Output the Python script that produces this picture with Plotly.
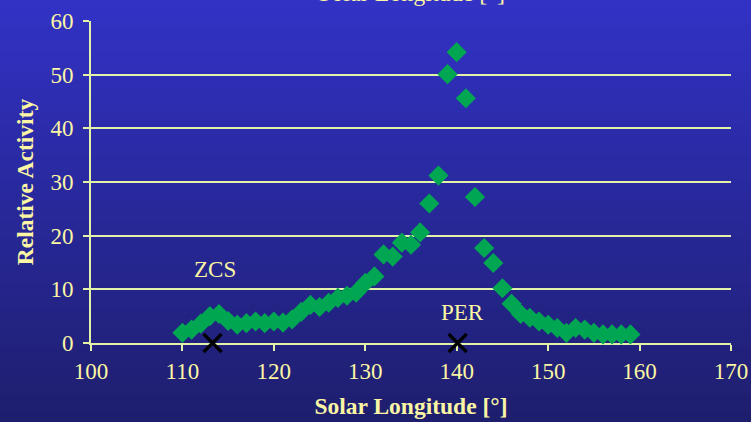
import plotly.graph_objects as go

# Solar longitude (deg) and relative activity of the shower
solar_longitude = list(range(110, 160))
relative_activity = [
    1.9, 2.5, 3.6, 5.0, 5.4, 4.1, 3.4, 3.7, 4.0, 3.7,
    4.0, 3.8, 4.4, 5.8, 7.1, 6.7, 7.5, 8.4, 8.8, 9.4,
    11.2, 12.4, 16.5, 16.1, 18.7, 18.3, 20.6, 26.0, 31.2, 50.1,
    54.2, 45.6, 27.2, 17.7, 14.9, 10.2, 7.3, 5.4, 4.7, 4.0,
    3.4, 2.8, 1.9, 2.8, 2.5, 1.9, 1.6, 1.6, 1.6, 1.6,
]

# Radiant markers on the baseline
marker_names = ["ZCS", "PER"]
marker_longitude = [113.3, 140.1]
marker_activity = [0, 0]
label_x = [113.6, 140.6]
label_y = [13.7, 5.7]

x_ticks = [100, 110, 120, 130, 140, 150, 160, 170]
y_ticks = [0, 10, 20, 30, 40, 50, 60]

TEXT = "#fbf6a4"
LINE = "#e2f2a8"
SERIF = "Liberation Serif, Times New Roman, serif"

fig = go.Figure()

fig.add_trace(go.Scatter(
    x=solar_longitude, y=relative_activity, mode="markers",
    marker=dict(symbol="diamond", size=15.5, color="#00a651", line=dict(width=0)),
    cliponaxis=False, showlegend=False,
))
fig.add_trace(go.Scatter(
    x=marker_longitude, y=marker_activity, mode="markers",
    marker=dict(symbol="x-thin", size=18, color="black", line=dict(width=3.2, color="black")),
    cliponaxis=False, showlegend=False,
))

for name, lx, ly in zip(marker_names, label_x, label_y):
    fig.add_annotation(x=lx, y=ly, text=name, showarrow=False,
                       font=dict(family=SERIF, size=23, color=TEXT))

# Partial heading at the very top edge
fig.add_annotation(x=0.5, y=1.088, xref="paper", yref="paper", text="Solar Longitude [°]",
                   showarrow=False, yanchor="middle",
                   font=dict(family=SERIF, size=24, color=TEXT))

# Vertical blue gradient background built from thin strips
top = (50, 50, 198)
bottom = (30, 30, 110)
n = 80
y_top, y_bot = 1.07, -0.25
shapes = []
for i in range(n):
    t = i / (n - 1)
    c = tuple(round(top[k] + (bottom[k] - top[k]) * t) for k in range(3))
    y0 = y_top - (y_top - y_bot) * i / n
    y1 = y_top - (y_top - y_bot) * (i + 1) / n
    shapes.append(dict(type="rect", xref="paper", yref="paper", x0=-0.2, x1=1.1,
                       y0=y1 - 0.002, y1=y0 + 0.002 if i else y0 + 0.05,
                       fillcolor="rgb(%d,%d,%d)" % c, line=dict(width=0), layer="below"))

fig.update_layout(
    width=751, height=422,
    margin=dict(l=91, r=20, t=21, b=78.5, autoexpand=False),
    paper_bgcolor="rgb(40,40,150)",
    plot_bgcolor="rgba(0,0,0,0)",
    shapes=shapes,
    font=dict(family=SERIF, color=TEXT),
    xaxis=dict(
        range=[100, 170], tickvals=x_ticks, showgrid=False, zeroline=False,
        showline=True, linecolor=LINE, linewidth=2,
        ticks="outside", ticklen=6, tickwidth=2, tickcolor=LINE,
        tickfont=dict(family=SERIF, size=23, color=TEXT),
        title=dict(text="<b>Solar Longitude [°]</b>", standoff=15,
                   font=dict(family=SERIF, size=23.5, color=TEXT)),
        automargin=False, layer="below traces",
    ),
    yaxis=dict(
        range=[0, 60], tickvals=y_ticks, showgrid=True, gridcolor=LINE, gridwidth=2,
        zeroline=False, showline=True, linecolor=LINE, linewidth=2,
        ticks="outside", ticklen=6, tickwidth=2, tickcolor=LINE,
        ticklabelstandoff=5,
        tickfont=dict(family=SERIF, size=23, color=TEXT),
        title=dict(text="<b>Relative Activity</b>", standoff=10,
                   font=dict(family=SERIF, size=23.5, color=TEXT)),
        automargin=False, layer="below traces",
    ),
)

fig.write_html("out.html")
